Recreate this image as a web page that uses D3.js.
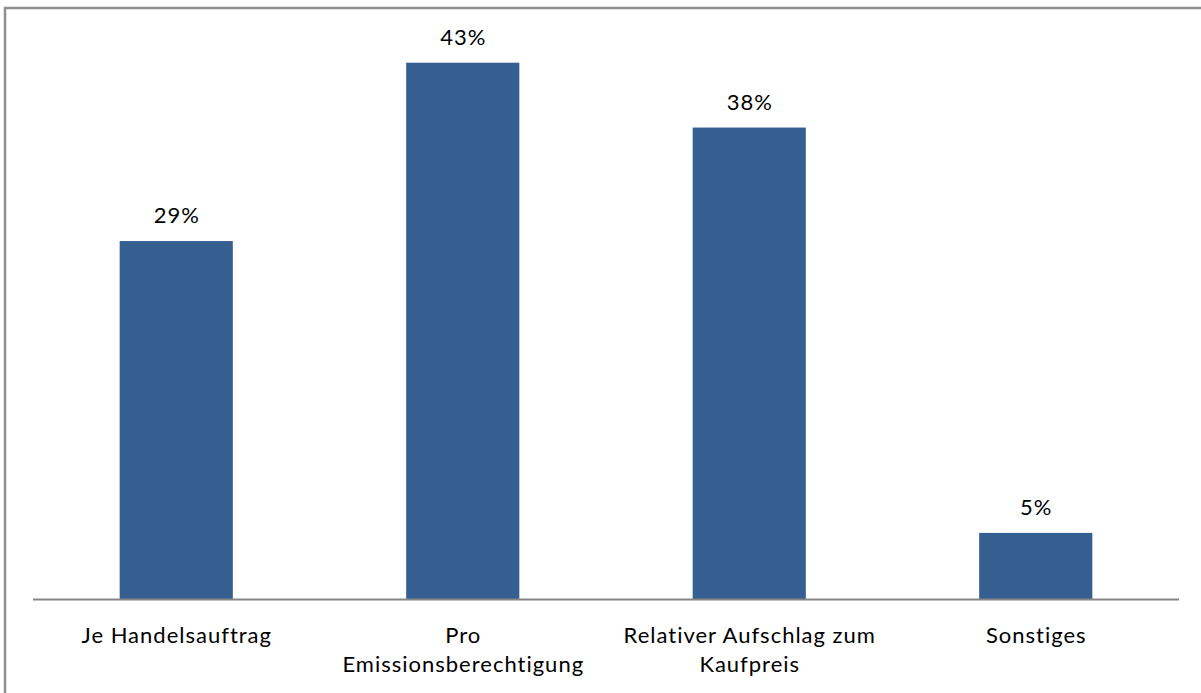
<!DOCTYPE html>
<html>
<head>
<meta charset="utf-8">
<script src="https://cdn.jsdelivr.net/npm/d3@7"></script>
<style>
  html, body { margin: 0; padding: 0; background: #fff; }
  svg { display: block; }
</style>
</head>
<body>
<svg id="chart" width="1201" height="693"></svg>
<script>
const categories = [
  ["Je Handelsauftrag"],
  ["Pro", "Emissionsberechtigung"],
  ["Relativer Aufschlag zum", "Kaufpreis"],
  ["Sonstiges"]
];
const values = [28.7, 43.0, 37.8, 5.3];
const valueLabels = ["29%", "43%", "38%", "5%"];

const svg = d3.select("#chart");
const W = 1201, H = 693;
const font = "Lato, 'Open Sans', sans-serif";
const fs = 22, ls = 1;

// outer frame (cut off right/bottom)
svg.append("rect")
  .attr("x", 5).attr("y", 8)
  .attr("width", W + 20).attr("height", H + 20)
  .attr("fill", "#fff")
  .attr("stroke", "#8f8f8f")
  .attr("stroke-width", 2.5);

const x0 = 33, x1 = 1179, yBase = 599;
const idx = d3.range(categories.length);
const x = d3.scaleBand().domain(idx).range([x0, x1]).paddingInner(0.605).paddingOuter(0.3025);
const y = d3.scaleLinear().domain([0, 43]).range([yBase, 62.7]);

svg.append("g").selectAll("rect")
  .data(idx).join("rect")
  .attr("x", i => x(i))
  .attr("y", i => y(values[i]))
  .attr("width", x.bandwidth())
  .attr("height", i => yBase - y(values[i]))
  .attr("fill", "#365F91");

// axis line
svg.append("line")
  .attr("x1", x0).attr("x2", x1)
  .attr("y1", yBase + 0.5).attr("y2", yBase + 0.5)
  .attr("stroke", "#868686").attr("stroke-width", 2);

const cx = i => x(i) + x.bandwidth() / 2 + ls / 2;

// value labels
svg.append("g").selectAll("text")
  .data(idx).join("text")
  .attr("x", cx)
  .attr("y", i => y(values[i]) - 18)
  .attr("text-anchor", "middle")
  .attr("font-family", font)
  .attr("font-size", fs)
  .attr("letter-spacing", ls)
  .attr("fill", "#000")
  .text(i => valueLabels[i]);

// category labels
const cat = svg.append("g").selectAll("text")
  .data(idx).join("text")
  .attr("x", cx)
  .attr("y", 643)
  .attr("text-anchor", "middle")
  .attr("font-family", font)
  .attr("font-size", fs)
  .attr("letter-spacing", ls)
  .attr("fill", "#000");
cat.each(function(i) {
  const t = d3.select(this);
  categories[i].forEach((line, k) => {
    t.append("tspan")
      .attr("x", cx(i))
      .attr("dy", k === 0 ? 0 : 28.5)
      .text(line);
  });
});
</script>
</body>
</html>
